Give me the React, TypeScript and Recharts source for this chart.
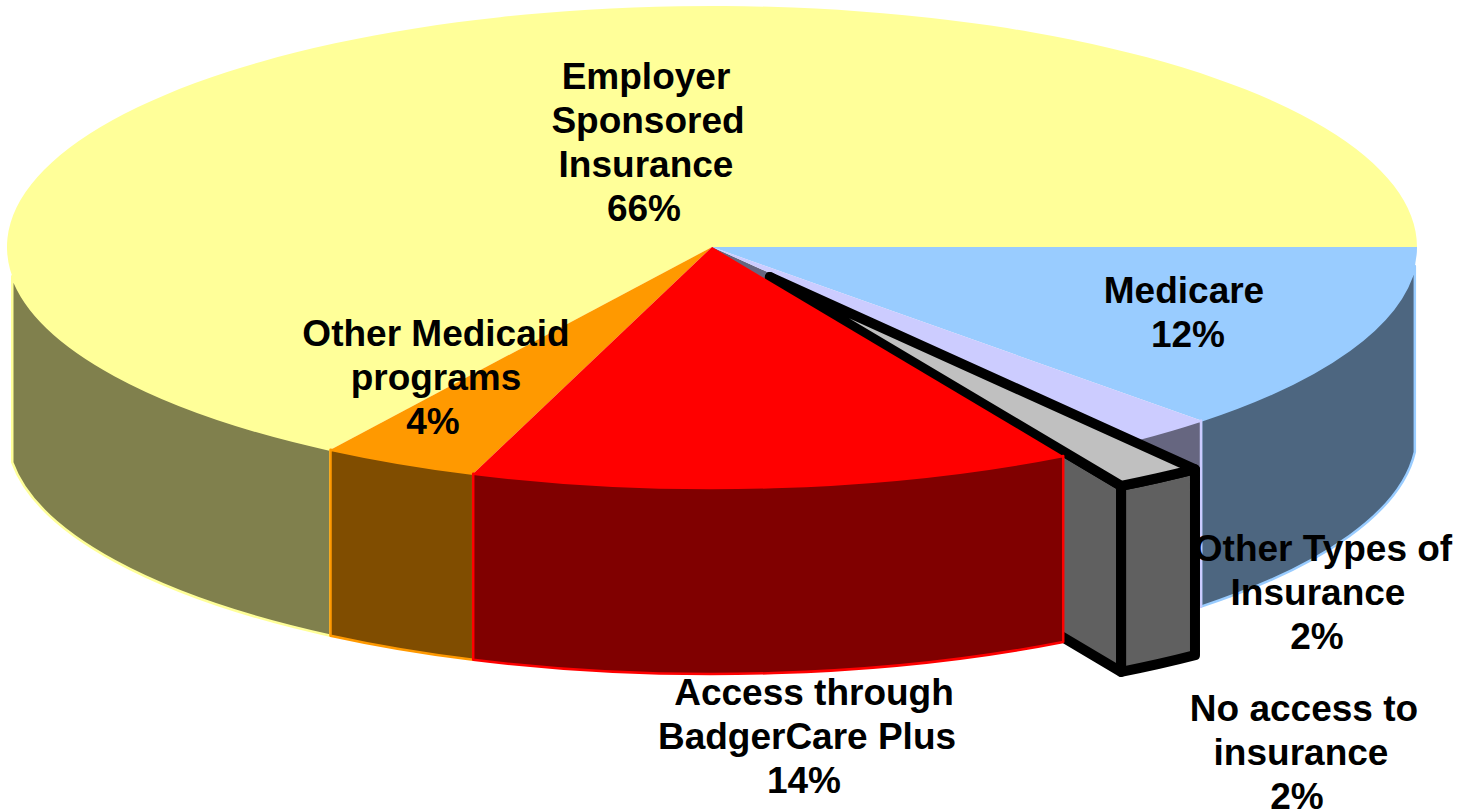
import { Pie, PieChart } from "recharts";

// slice order runs counter-clockwise from 3 o'clock
const categories = [
  "Employer Sponsored Insurance",
  "Other Medicaid programs",
  "Access through BadgerCare Plus",
  "No access to insurance",
  "Other Types of Insurance",
  "Medicare",
];
// shares (printed labels are rounded)
const shares = [65.9, 3.6, 13.8, 2, 1.9, 12.8];
const topColors = ["#FFFF99", "#FF9900", "#FF0000", "#C0C0C0", "#CCCCFF", "#99CCFF"];
const wallColors = ["#80804D", "#804D00", "#800000", "#606060", "#666680", "#4D6680"];
const edgeColors = ["#FFFF99", "#FF9900", "#FF0000", "#000000", "#CCCCFF", "#99CCFF"];

const labelLines = [
  ["Employer", "Sponsored", "Insurance", "66%"],
  ["Other Medicaid", "programs", "4%"],
  ["Access through", "BadgerCare Plus", "14%"],
  ["No access to", "insurance", "2%"],
  ["Other Types of", "Insurance", "2%"],
  ["Medicare", "12%"],
];
// centre x of every line, baseline of the first line
const labelLineX = [
  [646, 648, 646, 644],
  [436, 436, 433],
  [814, 807, 804],
  [1304, 1301, 1297],
  [1323, 1318, 1317],
  [1184, 1188],
];
const labelTopY = [89, 346, 705, 721, 561, 303];

const tableData = categories.map((name, i) => ({ name, share: shares[i] }));

const WIDTH = 1458;
const HEIGHT = 812;
const CX = 712;
const CY = 247;
const RADIUS = 705;
const SQUASH = 241 / 705;
const DEPTH = 186;
const EXPLODED = 3;
const EXPLODE_BY = 105;
// the walls stop a little short of the widest points of the ellipse
const WALL_FROM = 187;
const WALL_TO = 355.5;
// back to front, the empty one at the end only carries the labels
const layers = [[0, 1], [5], [4], [3], [2], []];

const rad = (deg: number) => (deg * Math.PI) / 180;

function SliceShape(props: any) {
  const { index, cx, cy, outerRadius, startAngle, endAngle } = props;
  const rx = outerRadius;
  const ry = outerRadius * SQUASH;
  const isExploded = index === EXPLODED;
  const mid = (startAngle + endAngle) / 2;
  const ox = cx + (isExploded ? EXPLODE_BY * Math.cos(rad(mid)) : 0);
  const oy = cy - (isExploded ? EXPLODE_BY * SQUASH * Math.sin(rad(mid)) : 0);
  const px = (a: number) => ox + rx * Math.cos(rad(a));
  const py = (a: number) => oy - ry * Math.sin(rad(a));
  const arc = (from: number, to: number, sweep: number, dy = 0) =>
    `A${rx} ${ry} 0 ${Math.abs(to - from) > 180 ? 1 : 0} ${sweep} ${px(to)} ${py(to) + dy}`;

  const wallStart = Math.max(startAngle, WALL_FROM);
  const wallEnd = Math.min(endAngle, WALL_TO);
  const hasWall = wallEnd > wallStart;
  const edgeWidth = isExploded ? 10 : 2.5;

  return (
    <g>
      {/* radial face, only seen on the pulled out slice and the one it uncovers */}
      {(isExploded || index === EXPLODED + 1) && (
        <path
          d={`M${ox} ${oy}L${px(startAngle)} ${py(startAngle)}L${px(startAngle)} ${py(startAngle) + DEPTH}L${ox} ${oy + DEPTH}Z`}
          fill={wallColors[index]}
          stroke={isExploded ? "#000000" : "none"}
          strokeWidth={edgeWidth}
          strokeLinejoin="round"
        />
      )}
      {hasWall && (
        <path
          d={`M${px(wallStart)} ${py(wallStart)}${arc(wallStart, wallEnd, 0)}L${px(wallEnd)} ${py(wallEnd) + DEPTH}${arc(wallEnd, wallStart, 1, DEPTH)}Z`}
          fill={wallColors[index]}
          stroke={edgeColors[index]}
          strokeWidth={edgeWidth}
          strokeLinejoin="round"
        />
      )}
      <path
        d={`M${ox} ${oy}L${px(startAngle)} ${py(startAngle)}${arc(startAngle, endAngle, 0)}Z`}
        fill={topColors[index]}
        stroke={isExploded ? "#000000" : "none"}
        strokeWidth={edgeWidth}
        strokeLinejoin="round"
      />
    </g>
  );
}

const shapeForLayer = (layer: number[]) => (props: any) =>
  layer.includes(props.index) ? <SliceShape {...props} /> : <g />;

function renderSliceLabel(props: any) {
  const i = props.index;
  return (
    <text
      key={categories[i]}
      y={labelTopY[i]}
      fontFamily="Liberation Sans"
      fontWeight="bold"
      fontSize={37}
      fill="#000000"
      textAnchor="middle"
    >
      {labelLines[i].map((line, j) => (
        <tspan key={line} x={labelLineX[i][j]} dy={j === 0 ? 0 : 44}>
          {line}
        </tspan>
      ))}
    </text>
  );
}

export default function App() {
  return (
    <div style={{ position: "absolute", left: 0, top: 0, width: WIDTH, height: HEIGHT, background: "#FFFFFF" }}>
      <PieChart width={WIDTH} height={HEIGHT} margin={{ top: 0, right: 0, bottom: 0, left: 0 }}>
        {layers.map((layer) => {
          const shape = shapeForLayer(layer);
          return (
            <Pie
              key={"layer-" + layer.join("-")}
              data={tableData}
              dataKey="share"
              nameKey="name"
              cx={CX}
              cy={CY}
              innerRadius={0}
              outerRadius={RADIUS}
              startAngle={0}
              endAngle={360}
              stroke="none"
              shape={shape}
              inactiveShape={shape}
              activeShape={shape}
              label={layer.length === 0 ? renderSliceLabel : false}
              labelLine={false}
              isAnimationActive={false}
            />
          );
        })}
      </PieChart>
    </div>
  );
}
